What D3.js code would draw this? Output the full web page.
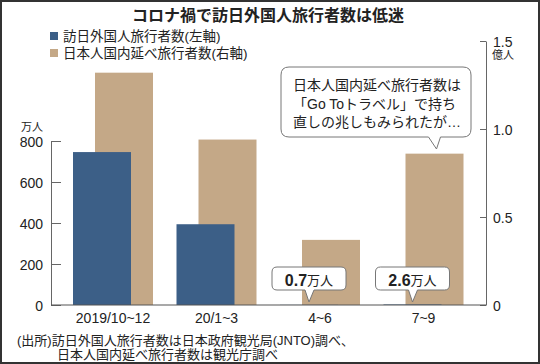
<!DOCTYPE html>
<html>
<head>
<meta charset="utf-8">
<script src="https://cdn.jsdelivr.net/npm/d3@7"></script>
<style>
  body { margin: 0; background: #fff; }
  text { font-family: "Liberation Sans", "Noto Sans CJK JP", sans-serif; fill: #222; }
</style>
</head>
<body>
<script>
// data
var categories = ["2019/10~12", "20/1~3", "4~6", "7~9"];
var inbound = [746, 394, 0.7, 2.6];          // 万人 (left axis)
var domestic = [1.32, 0.94, 0.37, 0.86];     // 億人 (right axis)
var seriesNames = ["訪日外国人旅行者数(左軸)", "日本人国内延べ旅行者数(右軸)"];
var leftTicks = [0, 200, 400, 600, 800];
var rightTicks = [0, 0.5, 1, 1.5];
var title = "コロナ禍で訪日外国人旅行者数は低迷";
var noteLines = ["日本人国内延べ旅行者数は", "「Go Toトラベル」で持ち", "直しの兆しもみられたが…"];
var sourceLines = ["(出所)訪日外国人旅行者数は日本政府観光局(JNTO)調べ、", "日本人国内延べ旅行者数は観光庁調べ"];

var W = 540, H = 364;
var blue = "#3c5f87", tan = "#c4a887";
var base = 305, axL = 51, axR = 486;

function display() {
    var svg = d3.select("body").append("svg")
        .attr("width", W).attr("height", H);

    svg.append("rect").attr("x", 1).attr("y", 1)
        .attr("width", W - 2).attr("height", H - 2)
        .attr("fill", "#fff").attr("stroke", "#333").attr("stroke-width", 2);

    svg.append("text").text(title)
        .attr("x", 268).attr("y", 15)
        .attr("text-anchor", "middle").attr("dominant-baseline", "central")
        .style("font-size", "16px").style("font-weight", "bold");

    var x = d3.scaleBand().domain(categories).range([62, 476]);
    var yL = d3.scaleLinear().domain([0, 800]).range([base, 141]);
    var yR = d3.scaleLinear().domain([0, 1.5]).range([base, 41]);
    var bw = 58;

    // tan bars behind
    svg.append("g").selectAll("rect")
        .data(domestic)
        .enter().append("rect")
        .attr("x", function(d, i) { return x(categories[i]) + 33; })
        .attr("y", function(d) { return yR(d); })
        .attr("width", bw)
        .attr("height", function(d) { return base - yR(d); })
        .attr("fill", tan);

    svg.append("g").selectAll("rect")
        .data(inbound)
        .enter().append("rect")
        .attr("x", function(d, i) { return x(categories[i]) + 11; })
        .attr("y", function(d) { return yL(d); })
        .attr("width", bw)
        .attr("height", function(d) { return base - yL(d); })
        .attr("fill", blue);

    // axes
    var left = svg.append("g").attr("transform", "translate(" + axL + ",0)")
        .call(d3.axisLeft(yL).tickValues(leftTicks).tickSizeInner(-10).tickSizeOuter(0).tickPadding(8));
    var right = svg.append("g").attr("transform", "translate(" + axR + ",0)")
        .call(d3.axisRight(yR).tickValues(rightTicks).tickSizeInner(-6).tickSizeOuter(0).tickPadding(7)
            .tickFormat(function(d) { return d === 0 ? "0" : d3.format(".1f")(d); }));
    [left, right].forEach(function(g) {
        g.select(".domain").attr("stroke", "#666");
        g.selectAll(".tick line").attr("stroke", "#666");
        g.selectAll(".tick text").style("font-size", "14px").attr("fill", "#222")
            .attr("dy", null).attr("dominant-baseline", "central");
    });

    svg.append("line").attr("x1", axL).attr("x2", axR)
        .attr("y1", base).attr("y2", base)
        .attr("stroke", "#555").attr("stroke-width", 1.2);

    svg.append("text").text("万人").attr("x", 32).attr("y", 127)
        .attr("text-anchor", "middle").attr("dominant-baseline", "central")
        .style("font-size", "11px");
    svg.append("text").text("億人").attr("x", 503).attr("y", 55)
        .attr("text-anchor", "middle").attr("dominant-baseline", "central")
        .style("font-size", "11px");

    // category labels
    svg.append("g").selectAll("text")
        .data(categories)
        .enter().append("text")
        .text(function(d) { return d; })
        .attr("x", function(d) { return x(d) + 51; })
        .attr("y", 318)
        .attr("text-anchor", "middle").attr("dominant-baseline", "central")
        .style("font-size", "14px");

    // legend
    var leg = svg.append("g").selectAll("g")
        .data(seriesNames)
        .enter().append("g")
        .attr("transform", function(d, i) { return "translate(50," + (36 + i * 17) + ")"; });
    leg.append("rect").attr("x", 0).attr("y", -4).attr("width", 8).attr("height", 8)
        .attr("fill", function(d, i) { return i === 0 ? blue : tan; });
    leg.append("text").text(function(d) { return d; })
        .attr("x", 13).attr("y", 0).attr("dominant-baseline", "central")
        .style("font-size", "13.5px");

    // small callouts for tiny blue values
    [2, 3].forEach(function(i) {
        var cx = x(categories[i]) + 11 + bw / 2;
        var bx = cx - 37, by = 267, bwid = 74, bh = 23, tip = 302;
        var p = "M" + (bx + 5) + "," + by + "H" + (bx + bwid - 5) +
            "Q" + (bx + bwid) + "," + by + " " + (bx + bwid) + "," + (by + 5) +
            "V" + (by + bh - 5) +
            "Q" + (bx + bwid) + "," + (by + bh) + " " + (bx + bwid - 5) + "," + (by + bh) +
            "H" + (cx + 5) + "L" + cx + "," + tip + "L" + (cx - 4) + "," + (by + bh) +
            "H" + (bx + 5) +
            "Q" + bx + "," + (by + bh) + " " + bx + "," + (by + bh - 5) +
            "V" + (by + 5) +
            "Q" + bx + "," + by + " " + (bx + 5) + "," + by + "Z";
        svg.append("path").attr("d", p).attr("fill", "#fff")
            .attr("stroke", "#777").attr("stroke-width", 1);
        var t = svg.append("text").attr("x", cx).attr("y", by + bh / 2 + 1)
            .attr("text-anchor", "middle").attr("dominant-baseline", "central");
        t.append("tspan").text(inbound[i]).style("font-size", "16px").style("font-weight", "bold");
        t.append("tspan").text("万人").style("font-size", "13px");
    });

    // big note callout
    var tx = x(categories[3]) + 33 + bw / 2;
    var nx = 281, ny = 67, nw = 190, nh = 70, r = 8, ntip = 149;
    var np = "M" + (nx + r) + "," + ny + "H" + (nx + nw - r) +
        "Q" + (nx + nw) + "," + ny + " " + (nx + nw) + "," + (ny + r) +
        "V" + (ny + nh - r) +
        "Q" + (nx + nw) + "," + (ny + nh) + " " + (nx + nw - r) + "," + (ny + nh) +
        "H" + (tx + 6) + "L" + (tx + 2) + "," + ntip + "L" + (tx - 6) + "," + (ny + nh) +
        "H" + (nx + r) +
        "Q" + nx + "," + (ny + nh) + " " + nx + "," + (ny + nh - r) +
        "V" + (ny + r) +
        "Q" + nx + "," + ny + " " + (nx + r) + "," + ny + "Z";
    svg.append("path").attr("d", np).attr("fill", "#fff")
        .attr("stroke", "#777").attr("stroke-width", 1);
    svg.append("g").selectAll("text")
        .data(noteLines)
        .enter().append("text")
        .text(function(d) { return d; })
        .attr("x", 293)
        .attr("y", function(d, i) { return 85 + i * 18.5; })
        .attr("dominant-baseline", "central")
        .style("font-size", "14px");

    // source
    svg.append("g").selectAll("text")
        .data(sourceLines)
        .enter().append("text")
        .text(function(d) { return d; })
        .attr("x", function(d, i) { return i === 0 ? 17 : 57; })
        .attr("y", function(d, i) { return 340 + i * 14; })
        .attr("dominant-baseline", "central")
        .style("font-size", "13px");
}

document.addEventListener("DOMContentLoaded", function() {
    display();
});
</script>
</body>
</html>
